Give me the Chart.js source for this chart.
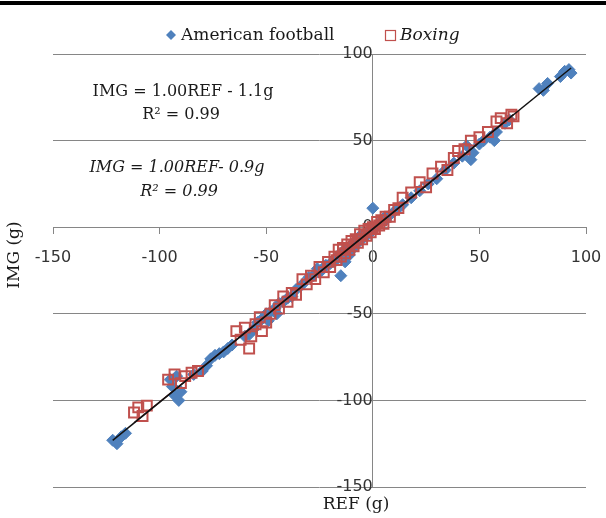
<!DOCTYPE html>
<html>
<head>
<meta charset="utf-8">
<script src="https://cdn.jsdelivr.net/npm/chart.js@4/dist/chart.umd.min.js"></script>
<style>
  html, body { margin: 0; padding: 0; background: #fff; }
  #wrap { width: 606px; height: 518px; }
</style>
</head>
<body>
<div id="wrap"><canvas id="scatterChart" width="606" height="518"></canvas></div>
<script>
// American football: reference (x) vs IMG (y), grams
var afRef = [-122, -120, -118, -116, -95, -94, -93, -91, -90, -92, -84, -80, -78, -76, -74, -72, -70, -68, -66,
    -60, -58, -56, -54, -52, -50, -49, -48, -46, -45, -44, -42, -40, -38, -36,
    -33, -30, -28, -26, -24, -22, -20, -18, -16, -15, -14, -13, -12, -11, -10, -9, -8, -7, -6, -5, -4, -3, -2, -1, 0, 0, 1, 2, 3, 4, 5, 6, 8, 10, 12, 14,
    18, 22, 26, 30, 34, 38, 42, 44, 46, 47, 50, 52, 55, 57, 58, 62, 64,
    78, 80, 82, 88, 90, 92, 93];
var afImg = [-123, -125, -121, -119, -88, -92, -97, -100, -95, -86, -85, -83, -80, -76, -74, -73, -72, -70, -68,
    -63, -62, -59, -55, -53, -50, -54, -49, -47, -50, -44, -43, -41, -40, -36,
    -33, -29, -28, -24, -25, -22, -21, -20, -16, -28, -14, -20, -12, -16, -10, -12, -8, -9, -5, -7, -4, -5, -2, -3, -1, 11, 0, 1, 2, 3, 5, 4, 7, 9, 11, 13,
    17, 21, 25, 28, 33, 37, 41, 47, 39, 43, 48, 50, 52, 50, 55, 60, 62,
    80, 79, 83, 87, 90, 91, 89];

// Boxing
var bxRef = [-112, -110, -108, -106, -96, -93, -90, -88, -85, -82,
    -64, -62, -60, -58, -57, -55, -53, -52, -50, -48, -46, -44, -42, -40, -38, -36,
    -33, -31, -29, -27, -25, -23, -21, -20, -18, -17, -16, -15, -14, -13, -12, -11, -10, -9, -8, -7, -6, -5, -4, -3, -2, -1, 0, 1, 2, 3, 4, 5, 6, 8, 10, 12,
    14, 18, 22, 25, 28, 32, 35, 38, 40, 43, 46, 50, 54, 58, 60, 63, 65, 66];
var bxImg = [-107, -104, -109, -103, -88, -85, -90, -86, -84, -83,
    -60, -65, -58, -70, -63, -56, -52, -60, -55, -50, -45, -47, -40, -43, -38, -39,
    -30, -33, -28, -30, -23, -26, -20, -23, -17, -19, -13, -17, -12, -15, -10, -13, -8, -11, -7, -9, -4, -7, -2, -5, -1, -3, 0, -1, 3, 1, 4, 2, 6, 6, 10, 11,
    17, 20, 26, 23, 31, 35, 33, 40, 44, 45, 50, 52, 55, 61, 63, 60, 65, 64];

// linear trend lines (end points)
var afTrendRef = [-122, 93];
var afTrendImg = [-123.1, 91.9];
var bxTrendRef = [-112, 66];
var bxTrendImg = [-112.9, 65.1];

var axisMin = -150, axisMax = 100, axisStep = 50;

function toPoints(xs, ys) {
    return xs.map(function (x, i) { return { x: x, y: ys[i] }; });
}

var serif = "'DejaVu Serif', serif";
var sans = "'DejaVu Sans', sans-serif";

// texts drawn on the canvas: legend, regression equations, axis titles
var textPlugin = {
    id: 'texts',
    beforeDraw: function (chart) {
        var ctx = chart.ctx;
        ctx.save();
        ctx.fillStyle = '#fff';
        ctx.fillRect(0, 0, chart.width, chart.height);
        ctx.fillStyle = '#000';
        ctx.fillRect(0, 1, chart.width, 4);
        ctx.restore();
    },
    afterDraw: function (chart) {
        var ctx = chart.ctx;
        ctx.save();
        ctx.textBaseline = 'middle';

        // legend
        ctx.fillStyle = '#4F81BD';
        ctx.beginPath();
        ctx.moveTo(171, 30); ctx.lineTo(176, 35); ctx.lineTo(171, 40); ctx.lineTo(166, 35);
        ctx.closePath(); ctx.fill();
        ctx.fillStyle = '#1a1a1a';
        ctx.font = '17px ' + serif;
        ctx.textAlign = 'left';
        ctx.fillText('American football', 181, 36);
        ctx.strokeStyle = '#C0504D';
        ctx.lineWidth = 1.2;
        ctx.strokeRect(385.5, 30.5, 10, 10);
        ctx.font = 'italic 17px ' + serif;
        ctx.fillText('Boxing', 400, 36);

        // equations
        ctx.textAlign = 'center';
        ctx.font = '16px ' + serif;
        ctx.fillText('IMG = 1.00REF - 1.1g', 183, 92);
        ctx.fillText('R\u00B2 = 0.99', 181, 115);
        ctx.font = 'italic 16px ' + serif;
        ctx.fillText('IMG = 1.00REF- 0.9g', 177, 168);
        ctx.fillText('R\u00B2 = 0.99', 179, 192);

        // axis titles
        ctx.font = '17px ' + serif;
        ctx.fillText('REF (g)', 356, 505);
        ctx.translate(15, 255);
        ctx.rotate(-Math.PI / 2);
        ctx.fillText('IMG (g)', 0, 0);
        ctx.restore();
    }
};

// axes sit inside the plot, so their label overhang should not shrink it
function noOverhang(scale) {
    scale.paddingLeft = 0;
    scale.paddingRight = 0;
    scale.paddingTop = 0;
    scale.paddingBottom = 0;
}

var ctx = document.getElementById('scatterChart').getContext('2d');
new Chart(ctx, {
    type: 'scatter',
    data: {
        datasets: [
            {
                label: 'Trend football',
                type: 'line',
                data: toPoints(afTrendRef, afTrendImg),
                borderColor: '#111111',
                borderWidth: 1.5,
                pointRadius: 0,
                fill: false
            },
            {
                label: 'Trend boxing',
                type: 'line',
                data: toPoints(bxTrendRef, bxTrendImg),
                borderColor: '#4a1414',
                borderWidth: 1.5,
                pointRadius: 0,
                fill: false
            },
            {
                label: 'Boxing',
                data: toPoints(bxRef, bxImg),
                pointStyle: 'rect',
                pointRadius: 7,
                borderColor: '#C0504D',
                borderWidth: 2,
                backgroundColor: 'rgba(255,255,255,0)'
            },
            {
                label: 'American football',
                data: toPoints(afRef, afImg),
                pointStyle: 'rectRot',
                pointRadius: 6,
                borderColor: '#4F81BD',
                borderWidth: 1,
                backgroundColor: '#4F81BD'
            }
        ]
    },
    options: {
        responsive: false,
        animation: false,
        devicePixelRatio: 1,
        layout: {
            padding: { left: 53, right: 20, top: 54, bottom: 31 }
        },
        plugins: {
            legend: { display: false },
            tooltip: { enabled: false }
        },
        scales: {
            x: {
                type: 'linear',
                min: axisMin,
                max: axisMax,
                position: { y: 0 },
                afterFit: noOverhang,
                ticks: {
                    stepSize: axisStep,
                    padding: 15,
                    color: '#333',
                    font: { family: sans, size: 16 }
                },
                grid: {
                    drawOnChartArea: false,
                    drawTicks: true,
                    tickLength: 6,
                    color: '#868686'
                },
                border: { color: '#868686', width: 1 }
            },
            y: {
                type: 'linear',
                min: axisMin,
                max: axisMax,
                position: { x: 0 },
                afterFit: noOverhang,
                ticks: {
                    stepSize: axisStep,
                    padding: 20,
                    color: '#333',
                    font: { family: sans, size: 16 }
                },
                grid: {
                    drawTicks: false,
                    color: '#868686'
                },
                border: { color: '#868686', width: 1 }
            }
        }
    },
    plugins: [textPlugin]
});
</script>
</body>
</html>
